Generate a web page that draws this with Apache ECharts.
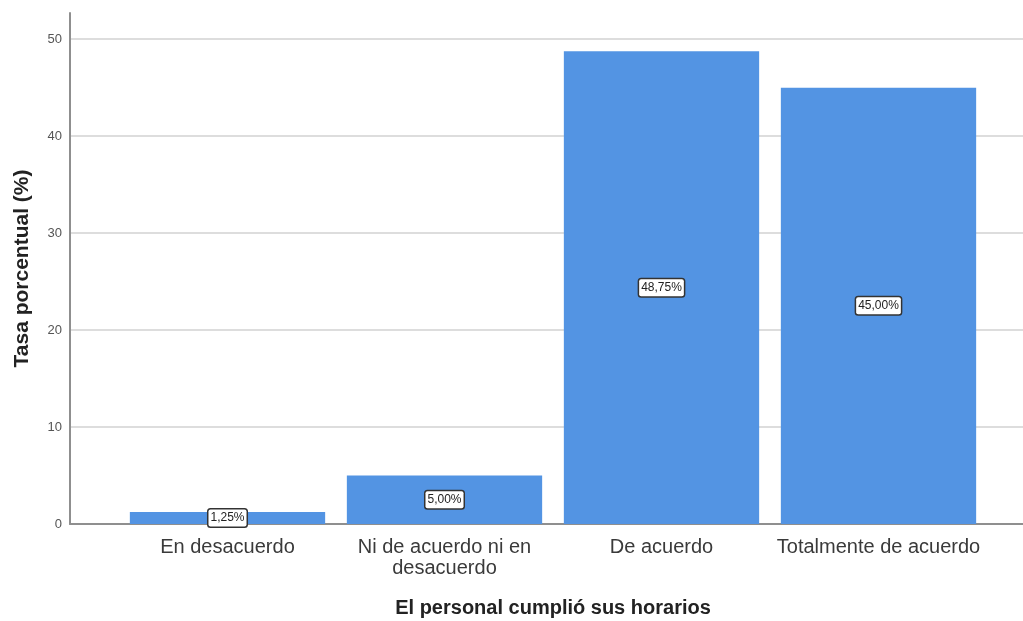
<!DOCTYPE html>
<html>
<head>
<meta charset="utf-8">
<script src="https://cdn.jsdelivr.net/npm/echarts@6/dist/echarts.min.js"></script>
<style>
  html, body { margin: 0; padding: 0; background: #fff; }
  #chart { width: 1023px; height: 621px; }
</style>
</head>
<body>
<div id="chart"></div>
<script>
// Respuestas a "El personal cumplió sus horarios"
const categories = ['En desacuerdo', 'Ni de acuerdo ni en\ndesacuerdo', 'De acuerdo', 'Totalmente de acuerdo'];
const percentages = [1.25, 5.00, 48.75, 45.00];
const yTicks = [0, 10, 20, 30, 40, 50];

const yMax = 52.7;
const fontFamily = '"Liberation Sans", Arial, sans-serif';

const chart = echarts.init(document.getElementById('chart'));

const fmtPct = v => v.toFixed(2).replace('.', ',') + '%';

chart.setOption({
  animation: false,
  grid: [
    { left: 70, right: 0, top: 13, bottom: 97, outerBoundsMode: 'none', containLabel: false },
    { left: 119, right: 36, top: 13, bottom: 97, outerBoundsMode: 'none', containLabel: false }
  ],
  xAxis: [
    {
      gridIndex: 0, type: 'value', min: 0, max: 1,
      axisLine: { show: true, lineStyle: { color: '#8f8f8f', width: 2 } },
      axisTick: { show: false }, axisLabel: { show: false }, splitLine: { show: false }
    },
    {
      gridIndex: 1, type: 'category', data: categories,
      axisLine: { show: false }, axisTick: { show: false },
      axisLabel: { fontFamily, fontSize: 20, color: '#3a3a3a', lineHeight: 21, margin: 13, interval: 0 },
      name: 'El personal cumplió sus horarios',
      nameLocation: 'middle', nameGap: 74,
      nameTextStyle: { fontFamily, fontSize: 20, fontWeight: 'bold', color: '#222' }
    }
  ],
  yAxis: [
    {
      gridIndex: 0, type: 'value', min: yTicks[0], max: yMax, interval: 10,
      axisLine: { show: true, lineStyle: { color: '#8f8f8f', width: 2 } },
      axisTick: { show: false },
      axisLabel: {
        fontFamily, fontSize: 13, color: '#555', margin: 8, showMaxLabel: false,
        formatter: v => (yTicks.includes(v) ? String(v) : '')
      },
      splitLine: { show: true, showMaxLine: false, lineStyle: { color: '#d2d2d2', width: 1.5 } },
      name: 'Tasa porcentual (%)',
      nameLocation: 'middle', nameRotate: 90, nameGap: 37,
      nameTextStyle: { fontFamily, fontSize: 21, fontWeight: 'bold', color: '#222' }
    },
    {
      gridIndex: 1, type: 'value', min: 0, max: yMax, show: false,
      splitLine: { show: false }
    }
  ],
  series: [{
    type: 'bar',
    xAxisIndex: 1, yAxisIndex: 1,
    data: percentages,
    barCategoryGap: '10%',
    itemStyle: { color: '#5394e3' },
    label: {
      show: true, position: 'inside',
      formatter: p => fmtPct(p.value),
      fontFamily, fontSize: 12, color: '#222',
      backgroundColor: '#fff', borderColor: '#333', borderWidth: 1.5, borderRadius: 2,
      padding: [3, 2, 2, 2]
    }
  }]
});
</script>
</body>
</html>
